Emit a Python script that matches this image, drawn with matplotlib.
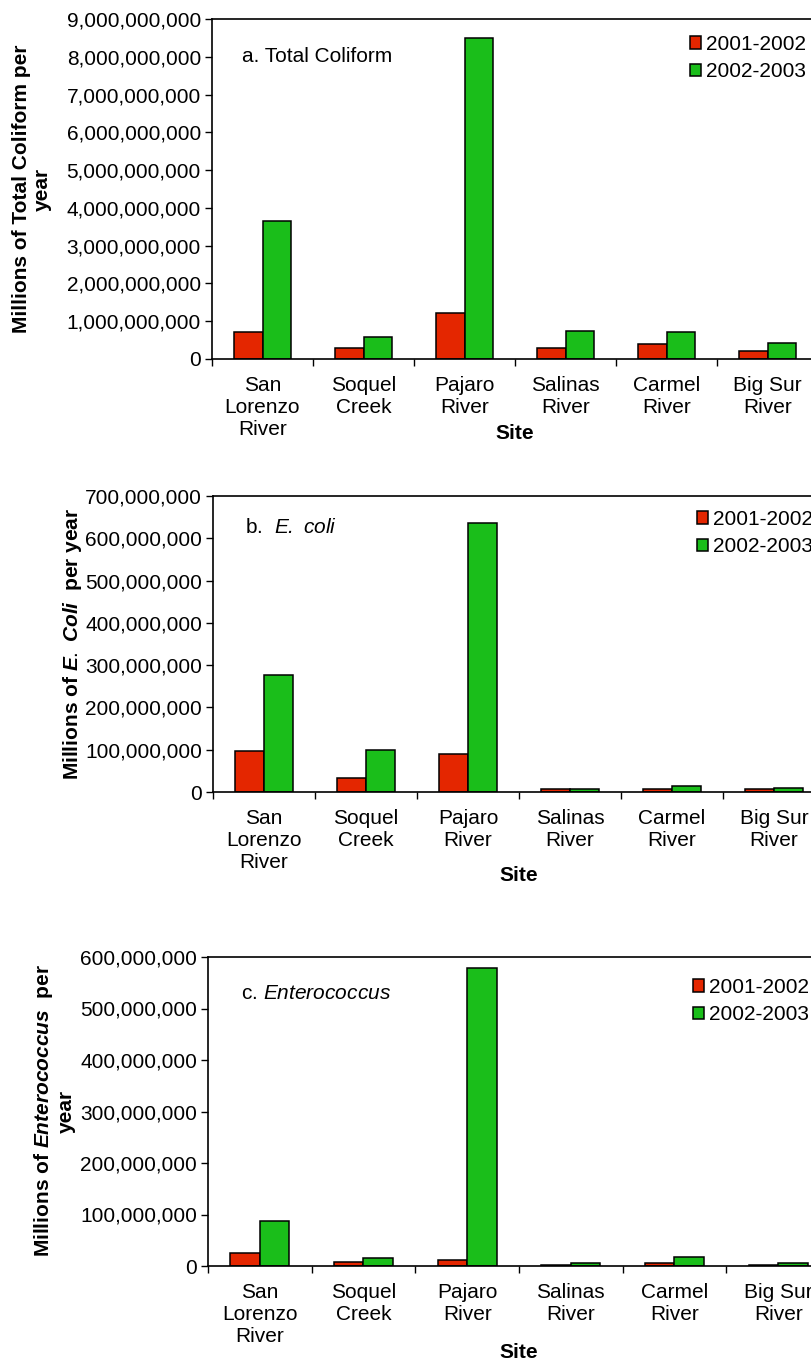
import matplotlib
matplotlib.use('Agg')
import matplotlib.pyplot as plt
from matplotlib.patches import Patch
from matplotlib.ticker import StrMethodFormatter, MultipleLocator, FixedLocator

plt.rcParams['font.family'] = ['Liberation Sans', 'DejaVu Sans']
plt.rcParams['mathtext.fontset'] = 'custom'
plt.rcParams['mathtext.it'] = 'Liberation Sans:italic:bold'
plt.rcParams['mathtext.sf'] = 'Liberation Sans:italic'
plt.rcParams['mathtext.rm'] = 'Liberation Sans'

# data
sites = ['San\nLorenzo\nRiver', 'Soquel\nCreek', 'Pajaro\nRiver',
         'Salinas\nRiver', 'Carmel\nRiver', 'Big Sur\nRiver']
seasons = ['2001-2002', '2002-2003']

coliform_0102 = [0.72e9, 0.30e9, 1.21e9, 0.29e9, 0.40e9, 0.22e9]
coliform_0203 = [3.66e9, 0.59e9, 8.50e9, 0.75e9, 0.72e9, 0.43e9]
ecoli_0102 = [98e6, 33e6, 89e6, 6e6, 7e6, 7e6]
ecoli_0203 = [277e6, 99e6, 637e6, 8e6, 15e6, 10e6]
entero_0102 = [26e6, 8e6, 12e6, 1.5e6, 6e6, 1e6]
entero_0203 = [87e6, 16e6, 579e6, 6.5e6, 18e6, 5e6]

RED = '#E42600'
GREEN = '#1ABE1A'
FS = 15
W, H = 812, 1364

fig = plt.figure(figsize=(W / 100, H / 100), dpi=100)


def px_axes(left, top, right, bottom):
    return fig.add_axes([left / W, 1 - bottom / H, (right - left) / W, (bottom - top) / H])


def draw_panel(ax, red, green, ymax, ystep, note, note_xy, legend_xy, site_y):
    x = range(len(sites))
    bw = 1 / 3.5
    ax.bar([i - bw / 2 for i in x], red, bw, color=RED, edgecolor='black', linewidth=1.1)
    ax.bar([i + bw / 2 for i in x], green, bw, color=GREEN, edgecolor='black', linewidth=1.1)
    ax.set_xlim(-0.5, len(sites) - 0.5)
    ax.set_ylim(0, ymax)
    ax.yaxis.set_major_locator(MultipleLocator(ystep))
    ax.yaxis.set_major_formatter(StrMethodFormatter('{x:,.0f}'))
    ax.set_xticks(list(x))
    ax.set_xticklabels(sites, fontsize=FS, linespacing=1.2)
    ax.xaxis.set_minor_locator(FixedLocator([i - 0.5 for i in range(len(sites) + 1)]))
    ax.tick_params(axis='x', which='major', length=0, pad=12)
    ax.tick_params(axis='x', which='minor', length=5, width=1, direction='out')
    ax.tick_params(axis='y', length=5, width=1, direction='out', labelsize=FS, pad=3)
    for s in ['left', 'bottom', 'top']:
        ax.spines[s].set_linewidth(1.2)
    ax.spines['right'].set_visible(False)
    ax.set_xlabel('Site', fontsize=FS, fontweight='bold')
    ax.xaxis.set_label_coords(0.5, site_y)
    ax.text(note_xy[0], note_xy[1], note, transform=ax.transAxes, fontsize=FS,
            ha='left', va='center')
    handles = [Patch(facecolor=RED, edgecolor='black', linewidth=1.1),
               Patch(facecolor=GREEN, edgecolor='black', linewidth=1.1)]
    ax.legend(handles, seasons, loc='upper left', bbox_to_anchor=(legend_xy[0] / W, 1 - legend_xy[1] / H),
              bbox_transform=fig.transFigure, frameon=False, fontsize=FS, borderpad=0,
              borderaxespad=0, handlelength=0.55, handleheight=0.55, handletextpad=0.2,
              labelspacing=0.4)


ax_a = px_axes(212, 19, 818, 359)
draw_panel(ax_a, coliform_0102, coliform_0203, 9e9, 1e9, 'a. Total Coliform',
           (0.05, 0.89), (690, 35), -0.19)
fig.text(32 / W, 1 - 189 / H, 'Millions of Total Coliform per\nyear', rotation=90,
         ha='center', va='center', fontsize=FS, fontweight='bold', linespacing=1.1)

ax_b = px_axes(213, 496, 825, 792)
draw_panel(ax_b, ecoli_0102, ecoli_0203, 7e8, 1e8, r'b.  $\mathsf{E.}$ $\mathsf{coli}$',
           (0.053, 0.895), (697, 510), -0.25)
fig.text(73 / W, 1 - 644 / H, r'Millions of $\mathit{E.}$ $\mathit{Coli}$  per year', rotation=90,
         ha='center', va='center', fontsize=FS, fontweight='bold')

ax_c = px_axes(208, 957, 830, 1266)
draw_panel(ax_c, entero_0102, entero_0203, 6e8, 1e8, r'c. $\mathsf{Enterococcus}$',
           (0.053, 0.882), (693, 978), -0.25)
fig.text(54 / W, 1 - 1111 / H, 'Millions of $\\mathit{Enterococcus}$  per\nyear', rotation=90,
         ha='center', va='center', fontsize=FS, fontweight='bold', linespacing=1.1)

fig.savefig('out.png', dpi=100)
